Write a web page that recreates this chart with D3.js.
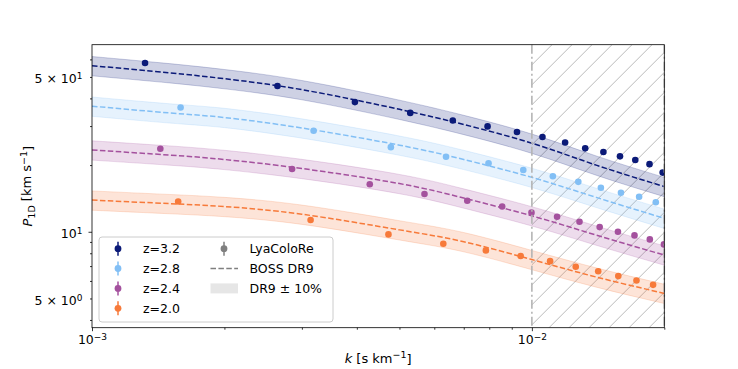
<!DOCTYPE html>
<html>
<head>
<meta charset="utf-8">
<script src="https://cdn.jsdelivr.net/npm/d3@7"></script>
<style>
body { margin: 0; background: #fff; }
text { font-family: "DejaVu Sans", sans-serif; }
</style>
</head>
<body>
<svg id="chart" width="738" height="369"></svg>
<script>
// LyaColoRe measurements, k in s/km, P1D in km/s
var k32 = [0.00132, 0.00264, 0.00396, 0.00529, 0.00661, 0.00793, 0.00925, 0.01057, 0.0119, 0.01322, 0.01454, 0.01586, 0.01718, 0.01851, 0.01983];
var p32 = [57.8, 45.5, 38.5, 34.4, 31.8, 29.9, 28.2, 26.8, 25.3, 23.8, 22.9, 21.9, 21.1, 20.2, 18.5];
var k28 = [0.00159, 0.00319, 0.00478, 0.00638, 0.00797, 0.00956, 0.01116, 0.01275, 0.01435, 0.01594, 0.01753, 0.01913];
var p28 = [36.4, 28.6, 24.1, 21.8, 20.4, 19.0, 17.8, 16.8, 15.8, 15.0, 14.4, 13.6];
var k24 = [0.00143, 0.00285, 0.00428, 0.0057, 0.00713, 0.00856, 0.00998, 0.01141, 0.01283, 0.01426, 0.01569, 0.01711, 0.01854, 0.01996];
var p24 = [23.7, 19.2, 16.4, 14.8, 13.8, 13.0, 12.2, 11.7, 11.1, 10.5, 10.0, 9.63, 9.24, 8.77];
var k20 = [0.00157, 0.00314, 0.00472, 0.00629, 0.00786, 0.00943, 0.011, 0.01258, 0.01415, 0.01572, 0.01729, 0.01886];
var p20 = [13.7, 11.3, 9.73, 8.83, 8.24, 7.77, 7.37, 6.95, 6.63, 6.31, 6.03, 5.76];

// BOSS DR9 model curves
var kModel = [0.001, 0.0015, 0.002, 0.003, 0.005, 0.007, 0.01, 0.014, 0.02];
var dr9_32 = [56.2, 52.2, 49.1, 43.8, 35.7, 30.5, 25.1, 20.0, 16.0];
var dr9_28 = [36.9, 34.4, 32.8, 29.4, 24.6, 21.2, 17.6, 14.3, 11.5];
var dr9_24 = [23.4, 22.2, 21.2, 19.3, 16.5, 14.2, 11.8, 9.66, 7.85];
var dr9_20 = [13.9, 13.4, 13.0, 12.0, 10.2, 9.02, 7.49, 6.25, 5.27];

var zLabels = ["z=3.2", "z=2.8", "z=2.4", "z=2.0"];
var colors = ["#0b1a78", "#82bff5", "#a4519e", "#f77a3a"];

var xMajor = [0.001, 0.01];
var xMajorExp = ["\u22123", "\u22122"];
var xMinor = [0.002, 0.003, 0.004, 0.005, 0.006, 0.007, 0.008, 0.009, 0.02];
var yMajor = [10];
var yLabelled = [5, 10, 50];
var yLabelMant = ["5 \u00d7 10", "10", "5 \u00d7 10"];
var yLabelExp = ["0", "1", "1"];
var yMinor = [4, 5, 6, 7, 8, 9, 20, 30, 40, 50, 60];

var series = [
    {k: k32, p: p32, model: dr9_32},
    {k: k28, p: p28, model: dr9_28},
    {k: k24, p: p24, model: dr9_24},
    {k: k20, p: p20, model: dr9_20}
];

var margin = { top: 44.7, right: 73.7, bottom: 41.3, left: 92 };
var width = 738 - margin.left - margin.right;
var height = 369 - margin.top - margin.bottom;

var root = d3.select("#chart");
var defs = root.append("defs");

var hatch = defs.append("pattern")
    .attr("id", "hatch")
    .attr("patternUnits", "userSpaceOnUse")
    .attr("width", 20)
    .attr("height", 20);
hatch.append("path")
    .attr("d", "M0,20L20,0M-2,2L2,-2M18,22L22,18")
    .attr("stroke", "#bababa")
    .attr("stroke-width", 1);

defs.append("clipPath").attr("id", "clip")
    .append("rect").attr("width", width).attr("height", height);

var svg = root.append("g")
    .attr("transform", "translate(" + margin.left + "," + margin.top + ")");

var x = d3.scaleLog().domain([1e-3, 2e-2]).range([0, width]);
var y = d3.scaleLog().domain([3.69, 69.9]).range([height, 0]);

var plot = svg.append("g").attr("clip-path", "url(#clip)");

// excluded region k > 0.01
plot.append("rect")
    .attr("x", x(0.01))
    .attr("y", 0)
    .attr("width", x(0.02) - x(0.01))
    .attr("height", height)
    .attr("fill", "url(#hatch)");

var band = d3.area()
    .x(function(d) { return x(d[0]); })
    .y0(function(d) { return y(d[1] * 0.9); })
    .y1(function(d) { return y(d[1] * 1.1); })
    .curve(d3.curveNatural);

var line = d3.line()
    .x(function(d) { return x(d[0]); })
    .y(function(d) { return y(d[1]); })
    .curve(d3.curveNatural);

series.forEach(function(s, i) {
    var pts = kModel.map(function(k, j) { return [k, s.model[j]]; });
    plot.append("path")
        .attr("d", band(pts))
        .attr("fill", colors[i])
        .attr("fill-opacity", 0.2)
        .attr("stroke", colors[i])
        .attr("stroke-opacity", 0.2)
        .attr("stroke-width", 1);
});

series.forEach(function(s, i) {
    var pts = kModel.map(function(k, j) { return [k, s.model[j]]; });
    plot.append("path")
        .attr("d", line(pts))
        .attr("fill", "none")
        .attr("stroke", colors[i])
        .attr("stroke-width", 1.5)
        .attr("stroke-dasharray", "5.5,2.4");
});

series.forEach(function(s, i) {
    plot.selectAll(null)
        .data(s.k.map(function(k, j) { return [k, s.p[j]]; }))
        .enter().append("circle")
        .attr("cx", function(d) { return x(d[0]); })
        .attr("cy", function(d) { return y(d[1]); })
        .attr("r", 3.3)
        .attr("fill", colors[i]);
});

// dash-dot borders of the excluded region
[0.01, 0.02].forEach(function(k) {
    svg.append("line")
        .attr("x1", x(k)).attr("x2", x(k))
        .attr("y1", 0).attr("y2", height)
        .attr("stroke", "#b4b4b4")
        .attr("stroke-width", 1.6)
        .attr("stroke-dasharray", "9,3,2,3");
});

// axes
var xAxis = svg.append("g")
    .attr("transform", "translate(0," + height + ")")
    .call(d3.axisBottom(x).tickValues(xMajor).tickSize(3.5).tickPadding(3.5).tickFormat(""));
xAxis.selectAll(".tick text").each(function(d, i) {
    var t = d3.select(this).attr("font-size", 12.5).attr("fill", "#000");
    t.append("tspan").text("10");
    t.append("tspan").text(xMajorExp[i]).attr("font-size", 9).attr("dy", "-0.45em");
});
svg.append("g")
    .attr("transform", "translate(0," + height + ")")
    .call(d3.axisBottom(x).tickValues(xMinor).tickSize(2).tickFormat(""));

var yAxis = svg.append("g")
    .call(d3.axisLeft(y).tickValues(yLabelled).tickSize(0).tickPadding(9.5).tickFormat(""));
yAxis.selectAll(".tick text").each(function(d, i) {
    var t = d3.select(this).attr("font-size", 12.5).attr("fill", "#000").attr("dy", "0.45em");
    t.append("tspan").text(yLabelMant[i]);
    t.append("tspan").text(yLabelExp[i]).attr("font-size", 9).attr("dy", "-0.45em");
});
svg.append("g").call(d3.axisLeft(y).tickValues(yMajor).tickSize(3.5).tickFormat(""));
svg.append("g").call(d3.axisLeft(y).tickValues(yMinor).tickSize(2).tickFormat(""));

svg.selectAll(".domain").remove();
svg.selectAll(".tick line").attr("stroke", "#000").attr("stroke-width", 0.8);

svg.append("rect")
    .attr("width", width)
    .attr("height", height)
    .attr("fill", "none")
    .attr("stroke", "#000")
    .attr("stroke-width", 0.8);

// axis labels
var xl = svg.append("text")
    .attr("x", width / 2)
    .attr("y", height + 35)
    .attr("text-anchor", "middle")
    .attr("font-size", 13);
xl.append("tspan").text("k").attr("font-style", "italic");
xl.append("tspan").text(" [s km");
xl.append("tspan").text("\u22121").attr("font-size", 9.5).attr("dy", "-0.45em");
xl.append("tspan").text("]").attr("dy", "0.45em");

var yl = svg.append("text")
    .attr("transform", "translate(" + (-60) + "," + (height / 2) + ") rotate(-90)")
    .attr("text-anchor", "middle")
    .attr("font-size", 13);
yl.append("tspan").text("P").attr("font-style", "italic");
yl.append("tspan").text("1D").attr("font-size", 9.5).attr("dy", "0.3em");
yl.append("tspan").text(" [km s").attr("dy", "-0.3em");
yl.append("tspan").text("\u22121").attr("font-size", 9.5).attr("dy", "-0.45em");
yl.append("tspan").text("]").attr("dy", "0.45em");

// legend
var lg = root.append("g");
lg.append("rect")
    .attr("x", 99).attr("y", 237)
    .attr("width", 234).attr("height", 85)
    .attr("rx", 3)
    .attr("fill", "#fff").attr("fill-opacity", 0.8)
    .attr("stroke", "#cccccc").attr("stroke-width", 1);

var rowY = [248.7, 268.5, 288.4, 308.3];

function errMarker(g, cx, cy, color) {
    g.append("line")
        .attr("x1", cx).attr("x2", cx)
        .attr("y1", cy - 7).attr("y2", cy + 7)
        .attr("stroke", color).attr("stroke-width", 1.5);
    g.append("circle").attr("cx", cx).attr("cy", cy).attr("r", 3.4).attr("fill", color);
}

zLabels.forEach(function(lab, i) {
    errMarker(lg, 118, rowY[i], colors[i]);
    lg.append("text")
        .attr("x", 143).attr("y", rowY[i]).attr("dy", "0.36em")
        .attr("font-size", 12.5)
        .text(lab);
});

errMarker(lg, 224, rowY[0], "#7f7f7f");
lg.append("line")
    .attr("x1", 210.5).attr("x2", 238)
    .attr("y1", rowY[1]).attr("y2", rowY[1])
    .attr("stroke", "#7f7f7f").attr("stroke-width", 1.5)
    .attr("stroke-dasharray", "5.5,2.4");
lg.append("rect")
    .attr("x", 210.5).attr("y", rowY[2] - 5)
    .attr("width", 27.5).attr("height", 10)
    .attr("fill", "#808080").attr("fill-opacity", 0.2);
["LyaColoRe", "BOSS DR9", "DR9 \u00b1 10%"].forEach(function(lab, i) {
    lg.append("text")
        .attr("x", 249.5).attr("y", rowY[i]).attr("dy", "0.36em")
        .attr("font-size", 12.5)
        .text(lab);
});
</script>
</body>
</html>
